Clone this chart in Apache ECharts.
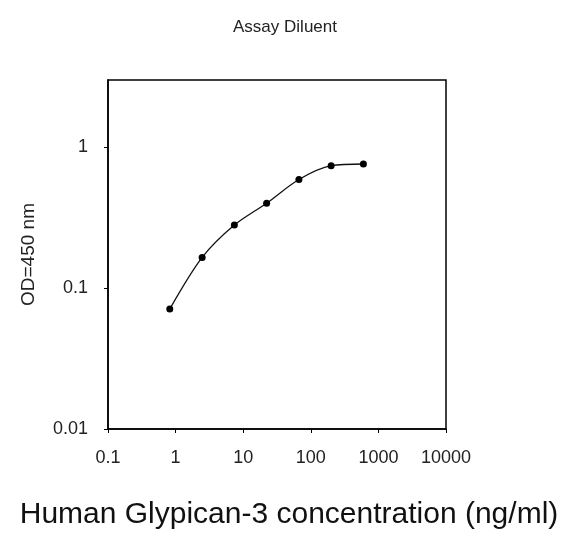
<!DOCTYPE html>
<html>
<head>
<meta charset="utf-8">
<script src="https://cdn.jsdelivr.net/npm/echarts@6/dist/echarts.min.js"></script>
<style>
    html, body { margin: 0; padding: 0; background: #fff; }
    #chart { width: 572px; height: 533px; }
</style>
</head>
<body>
<div id="chart"></div>
<script>
// concentration (ng/ml) and OD readings
var concentration = [0.82, 2.47, 7.4, 22.2, 66.7, 200, 600];
var od = [0.071, 0.165, 0.28, 0.40, 0.59, 0.74, 0.76];
var xTickValues = [0.1, 1, 10, 100, 1000, 10000];
var yTickValues = [0.01, 0.1, 1];

var chart = (function () {

    return {
        isTick: function (list, v) {
            for (var i = 0; i < list.length; i++) {
                if (Math.abs(list[i] - v) / list[i] < 1e-6) return true;
            }
            return false;
        },
        draw: function () {
            var that = this;
            var myChart = echarts.init(document.getElementById('chart'));
            var points = [];
            for (var i = 0; i < concentration.length; i++) {
                points.push([concentration[i], od[i]]);
            }
            var font = 'Liberation Sans, Arial, sans-serif';
            var option = {
                backgroundColor: '#fff',
                animation: false,
                title: {
                    text: 'Assay Diluent',
                    left: 280,
                    textAlign: 'center',
                    top: 14,
                    textStyle: { fontFamily: font, fontSize: 17, fontWeight: 'normal', color: '#222' }
                },
                grid: {
                    left: 108,
                    right: 126,
                    top: 80,
                    bottom: 104,
                    outerBoundsMode: 'none',
                    show: true,
                    borderColor: '#000',
                    borderWidth: 1.5
                },
                xAxis: {
                    type: 'log',
                    logBase: 10,
                    min: 0.1,
                    max: 10000,
                    name: 'Human Glypican-3 concentration (ng/ml)',
                    nameLocation: 'middle',
                    nameGap: 71,
                    nameTextStyle: { fontFamily: font, fontSize: 30, color: '#111', padding: [0, 0, 0, 24] },
                    axisLine: { lineStyle: { color: '#000', width: 1.5 } },
                    axisTick: { inside: false, length: 4, lineStyle: { color: '#000' } },
                    axisLabel: {
                        fontFamily: font, fontSize: 18, color: '#222', margin: 20,
                        formatter: function (v) {
                            return that.isTick(xTickValues, v) ? String(v) : '';
                        }
                    },
                    splitLine: { show: false },
                    minorTick: { show: false }
                },
                yAxis: {
                    type: 'log',
                    logBase: 10,
                    min: 0.01,
                    max: 3,
                    name: 'OD=450 nm',
                    nameLocation: 'middle',
                    nameGap: 70,
                    nameRotate: 90,
                    nameTextStyle: { fontFamily: font, fontSize: 19, color: '#222' },
                    axisLine: { lineStyle: { color: '#000', width: 1.5 } },
                    axisTick: { inside: false, length: 4, lineStyle: { color: '#000' } },
                    axisLabel: {
                        fontFamily: font, fontSize: 18, color: '#222', margin: 20,
                        showMaxLabel: false,
                        formatter: function (v) {
                            return that.isTick(yTickValues, v) ? String(v) : '';
                        }
                    },
                    splitLine: { show: false }
                },
                series: [
                    {
                        type: 'line',
                        data: points,
                        smooth: 0.3,
                        symbol: 'circle',
                        symbolSize: 7,
                        itemStyle: { color: '#000' },
                        lineStyle: { color: '#111', width: 1.3 }
                    }
                ]
            };
            myChart.setOption(option);
        }
    }
})();

chart.draw();
</script>
</body>
</html>
